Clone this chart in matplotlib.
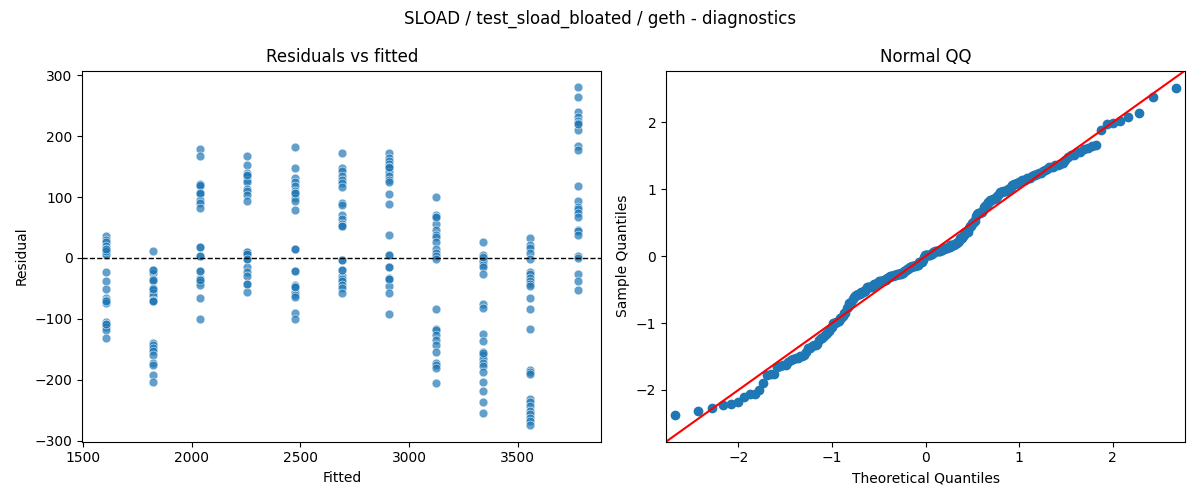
import matplotlib
matplotlib.use("Agg")
import matplotlib.pyplot as plt
import numpy as np
from statistics import NormalDist

# fitted level of each benchmark group and residuals
# (a few values repeated where markers overlap)
fitted_levels = [1605, 1822, 2039, 2256, 2473, 2690, 2907, 3124, 3341, 3558, 3775]
resid_groups = [
    [36, 30, 26, 19, 14, 11, 5, -23, -38, -51, -65, -69, -74, -105, -109, -114, -118, -131,
     10, 6, -109, 11, 14, -70],
    [12, -19, -25, -35, -38, -49, -52, -57, -63, -69, -71, -139, -143, -147, -153, -159, -173,
     -176, -192, -204, -36, -51, -70, -19],
    [179, 167, 121, 118, 107, 105, 95, 91, 82, 18, 4, -21, -33, -35, -40, -44, -65, -100,
     120, 106, 18, 4, -36, -21],
    [167, 152, 140, 136, 134, 128, 124, 113, 110, 104, 93, 10, 7, -2, -15, -23, -29, -42, -56,
     136, 10, 7, -2, -43],
    [182, 147, 132, 124, 118, 110, 106, 98, 93, 79, 15, -21, -45, -47, -56, -60, -64, -91, -100,
     106, 15, -21, -46, -47],
    [172, 147, 143, 134, 128, 123, 117, 91, 87, 71, 64, 56, 52, -3, -19, -30, -35, -38, -44,
     -49, -57, 52, -3, -19],
    [173, 164, 159, 154, 150, 147, 142, 135, 128, 125, 105, 88, 37, 5, -15, -33, -35, -46, -57,
     -92, 150, 5, -15, -35],
    [100, 71, 68, 56, 46, 37, 35, 26, 14, 8, 3, -2, -83, -116, -118, -127, -134, -143, -155,
     -173, -176, -180, -205, 67],
    [26, 5, 0, -3, -5, -11, -15, -26, -76, -82, -124, -136, -155, -160, -166, -172, -178, -188,
     -204, -219, -237, -255, 1, -156],
    [32, 21, 17, 8, -2, -23, -27, -33, -38, -42, -46, -65, -83, -116, -184, -188, -191, -231,
     -237, -243, -251, -256, -262, -267, -274],
    [280, 265, 239, 231, 225, 221, 210, 184, 178, 119, 94, 83, 80, 74, 68, 46, 44, 37, 3, 0,
     -26, -37, -53, 220],
]

fitted = np.concatenate([[f] * len(g) for f, g in zip(fitted_levels, resid_groups)])
resid = np.concatenate([np.array(g, dtype=float) for g in resid_groups])

fig, (ax1, ax2) = plt.subplots(1, 2, figsize=(12, 5))

ax1.scatter(fitted, resid, s=40, alpha=0.7, color="#1f77b4", edgecolors="white", linewidths=0.5)
ax1.axhline(0, color="black", linestyle="--", linewidth=1)
ax1.set_xlabel("Fitted")
ax1.set_ylabel("Residual")
ax1.set_title("Residuals vs fitted")

# normal QQ, standardized sample vs theoretical quantiles
n = len(resid)
sample = np.sort((resid - resid.mean()) / resid.std())
nd = NormalDist()
theo = np.array([nd.inv_cdf(i / (n + 1)) for i in range(1, n + 1)])
ax2.plot(theo, sample, "o", color="#1f77b4", markersize=6)
lo = min(theo.min(), sample.min()) - 0.1
hi = max(theo.max(), sample.max()) + 0.1
ax2.plot([lo, hi], [lo, hi], "r-")
ax2.set_xlim(lo, hi)
ax2.set_ylim(lo, hi)
ax2.set_xlabel("Theoretical Quantiles")
ax2.set_ylabel("Sample Quantiles")
ax2.set_title("Normal QQ")

fig.suptitle("SLOAD / test_sload_bloated / geth - diagnostics")
plt.tight_layout()
plt.savefig("out.png", dpi=100)
